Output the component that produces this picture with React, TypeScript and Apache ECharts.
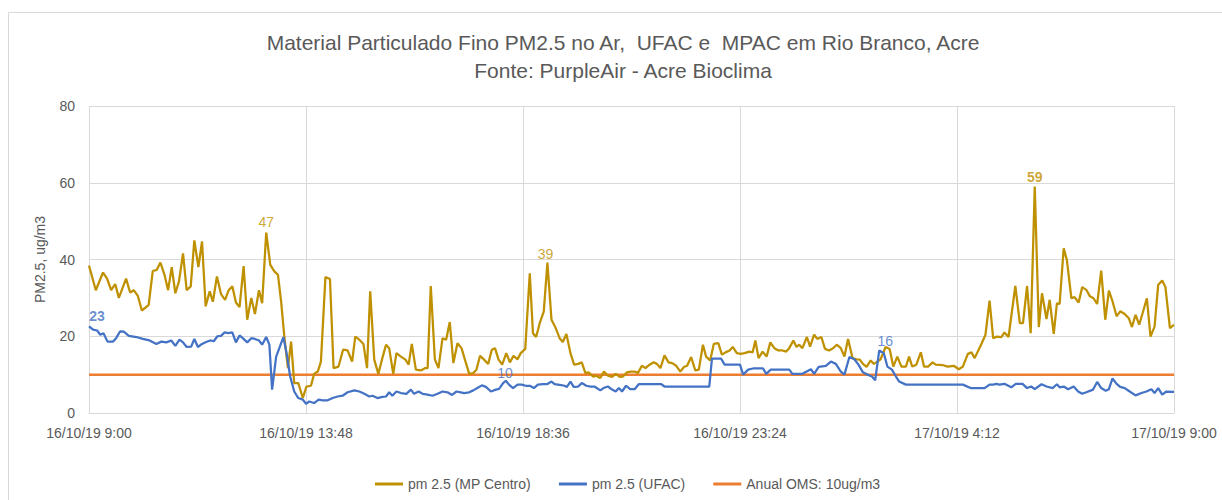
import React, { useEffect, useRef } from "react";
import * as echarts from "echarts";

// hours after 16/10/19 9:00
const xTickLabels = ["16/10/19 9:00", "16/10/19 13:48", "16/10/19 18:36", "16/10/19 23:24", "17/10/19 4:12", "17/10/19 9:00"];
const titleLines = ["Material Particulado Fino PM2.5 no Ar,  UFAC e  MPAC em Rio Branco, Acre", "Fonte: PurpleAir - Acre Bioclima"];

const goldTime = [0.00,0.15,0.31,0.40,0.49,0.58,0.66,0.82,0.91,0.99,1.08,1.17,1.32,1.41,1.50,1.58,1.67,1.75,1.83,1.91,1.99,2.08,2.16,2.25,2.33,2.42,2.50,2.58,2.67,2.74,2.83,2.92,3.01,3.09,3.17,3.25,3.33,3.42,3.50,3.59,3.67,3.76,3.83,3.92,4.01,4.10,4.18,4.25,4.32,4.40,4.47,4.54,4.63,
4.73,4.81,4.91,4.98,5.06,5.13,5.23,5.33,5.41,5.52,5.62,5.72,5.82,5.89,5.98,6.07,6.15,6.22,6.31,6.40,6.48,6.57,6.64,6.73,6.80,6.90,7.00,7.07,7.14,7.23,7.34,7.44,7.49,7.56,7.65,7.73,7.82,7.90,7.98,8.06,8.15,8.24,8.32,8.41,8.50,8.57,8.65,8.74,8.83,8.91,8.98,9.06,9.14,9.23,9.31,9.39,9.48,9.55,
9.65,9.75,9.82,9.89,9.97,10.06,10.14,10.23,10.31,10.41,10.48,10.56,10.65,10.73,10.82,10.90,10.98,11.05,11.15,11.22,11.31,11.39,11.48,11.57,11.65,11.74,11.81,11.90,11.98,12.07,12.14,12.23,12.31,12.40,12.49,12.56,12.64,12.73,12.82,12.90,12.99,13.08,13.16,13.23,13.32,13.41,13.49,13.58,13.65,13.74,13.82,13.92,14.00,14.08,14.17,14.24,14.33,
14.42,14.50,14.61,14.68,14.74,14.81,14.90,14.99,15.07,15.16,15.25,15.34,15.42,15.49,15.58,15.65,15.71,15.78,15.88,15.95,16.04,16.11,16.20,16.28,16.37,16.46,16.54,16.63,16.71,16.79,16.89,16.98,17.05,17.12,17.20,17.29,17.36,17.44,17.51,17.62,17.71,17.79,17.88,17.97,18.07,18.14,18.21,18.30,18.40,18.47,18.56,18.66,18.73,18.88,18.99,19.13,
19.24,19.33,19.44,19.52,19.59,19.74,19.83,19.92,20.00,20.08,20.18,20.25,20.34,20.49,20.59,20.66,20.75,20.83,20.92,21.01,21.08,21.18,21.25,21.34,21.41,21.47,21.56,21.63,21.73,21.80,21.89,21.97,22.06,22.14,22.22,22.30,22.39,22.48,22.56,22.64,22.73,22.81,22.91,23.00,23.07,23.15,23.23,23.31,23.40,23.48,23.57,23.65,23.74,23.81,23.91,24.00];

const goldPM = [38.4,32,36.6,35,32,33.6,30,35,31.4,32,30.5,26.7,28.2,37,37.3,39.2,36,32,38,31.2,34.3,41.6,32,33,45,38,44.7,27.8,31.7,29,35.6,31,29.5,32,33,28.8,27.6,38.3,24.3,30,25.8,32,28.6,47,38.6,36.9,36,29,20,11.7,18.6,7.8,7.8,
3.9,6.9,7.1,10.2,10.8,13.4,35.4,34.9,11.7,12.1,16.5,16.3,13.4,19.9,19.1,18,11.7,31.7,13.9,10.2,13.9,17.8,16.9,10.2,15.6,14.7,13.9,12.6,18,11.3,11.1,11.7,11.7,33.1,14,11.7,19.5,19.1,23.7,13,18.2,16.9,13.7,10.2,10.4,11.3,14.9,13.9,12.8,16.5,16.9,13.9,12.6,15.6,13.2,14.9,14,15.6,
16.7,36.4,20.8,19.8,23.4,26.5,39.2,24.3,22.5,19.5,18.5,20.6,15.6,12.6,12.8,13.2,10.4,10.6,9.5,9.7,9.1,10.8,9.7,9.4,10.2,9.4,9.5,10.6,10.8,10.8,10.4,12.3,11.7,12.6,13.2,12.8,11.7,15,13.2,13,12.3,10.8,12,12.3,14.6,11.1,11.3,17.8,14.7,13.7,18,18.2,15.2,15.8,16.3,17.2,15.6,
15.4,15.6,16,15.8,18.9,14.3,16,14.7,18.4,16.9,16.3,16.3,16,16.9,18.9,17.2,17.8,16.9,19.8,17.3,20.4,19.3,19.8,16.7,16.3,16.9,17.8,16.9,14.7,19.3,14.3,14,13.9,12.8,12,13.7,12.8,13.4,14,17.2,16.7,12.1,14.7,12.1,12.1,14.7,12.1,12.6,15.8,12.1,12.1,13.2,12.6,12.5,12.1,12.3,
11.4,12.1,15.4,15.8,14.3,18,20.4,29.3,19.5,19.9,19.8,21,19.8,33.1,23.4,23.4,33.1,20.8,59,22.4,31.2,24.5,29.5,20.6,28.6,28.4,42.9,39.9,29.9,30.2,28.8,32.8,32.1,30.4,29.9,28.4,37.1,24.3,31.9,29.1,25.2,26.5,25.8,24.7,22.4,25.6,23,26.2,29.9,19.9,22.5,33.4,34.5,32.8,22.1,23];

const blueTime = [0.00,0.09,0.18,0.25,0.32,0.41,0.53,0.60,0.69,0.77,0.88,1.05,1.19,1.34,1.49,1.60,1.71,1.82,1.91,2.00,2.08,2.16,2.26,2.33,2.41,2.50,2.59,2.68,2.76,2.84,2.92,3.00,3.08,3.17,3.25,3.33,3.42,3.50,3.59,3.67,3.76,3.83,3.92,3.99,4.05,4.14,4.21,4.30,4.37,4.45,4.54,4.63,
4.73,4.80,4.87,4.98,5.08,5.17,5.28,5.39,5.50,5.61,5.72,5.87,5.98,6.09,6.20,6.27,6.38,6.49,6.57,6.64,6.71,6.80,6.90,7.02,7.12,7.19,7.29,7.38,7.49,7.60,7.71,7.82,7.93,8.03,8.13,8.22,8.30,8.41,8.50,8.59,8.69,8.78,8.89,9.00,9.07,9.16,9.22,9.29,9.38,9.48,9.57,
9.66,9.75,9.84,9.93,10.04,10.13,10.23,10.30,10.41,10.52,10.57,10.65,10.72,10.82,10.90,11.00,11.09,11.18,11.31,11.38,11.48,11.57,11.65,11.72,11.79,11.88,11.97,12.07,12.16,12.25,12.66,12.73,13.21,13.72,13.78,13.98,14.06,14.40,
14.47,14.58,14.69,14.91,14.98,15.08,15.49,15.56,15.78,15.97,16.04,16.14,16.30,16.41,16.52,16.63,16.71,16.82,16.93,17.02,17.12,17.22,17.32,17.39,17.48,17.58,17.66,17.76,17.85,17.92,18.07,19.33,19.50,19.81,
19.92,20.00,20.07,20.14,20.25,20.40,20.50,20.65,20.75,20.84,20.92,21.07,21.18,21.32,21.41,21.47,21.56,21.66,21.78,21.88,21.97,22.06,22.21,22.30,22.39,22.49,22.56,22.64,22.73,22.81,22.91,23.02,23.15,23.28,23.39,23.50,23.57,23.65,23.74,23.83,24.00];

const bluePM = [22.6,21.7,21.5,20.4,20.8,18.6,18.6,19.5,21.3,21.2,20.1,19.8,19.3,18.9,18,18.6,18.4,18.9,17.5,19.1,18.4,17.2,17.3,19.3,17.2,18,18.5,18.9,18.7,20,20.1,21,20.8,21,18.4,20.2,19.3,18.4,19.5,19.3,18.9,17.8,19.8,17.8,6.1,14.7,16.9,19.8,15.6,9.5,5.6,3.9,
3.5,2.4,3,2.6,3.5,3.3,3.3,3.9,4.3,4.5,5.4,5.9,5.6,5,4.3,4.5,3.9,4.2,4.3,5.4,4.5,5.6,5.2,5,6.1,5,5.6,5,4.8,4.5,5,5.6,5.4,4.7,5.6,5.4,5.2,5.4,5.9,6.5,7.2,6.8,5.6,6.1,6.3,7.8,8.4,7.4,6.5,7.4,7.4,
7.1,7.1,6.5,7.4,7.5,7.5,8.2,7.5,7.3,7.1,6.8,8.2,6.8,6.9,7.8,7.1,6.9,6.9,5.9,6.5,6.9,6.1,5.6,6.5,5.6,7.1,6.2,6.2,7.5,7.5,7.5,6.9,6.9,6.9,14.2,14.2,12.6,12.6,
10,11.3,11.6,11.6,10.2,11.3,11.3,10.2,10.2,11.4,10.2,12,12.3,13.4,12.8,10.8,10,14.6,14,12.6,10.6,10,9.5,8.5,16.3,15.6,12.1,11.3,9.5,8.2,7.4,7.4,6.5,6.5,
7.4,7.4,7.6,7.4,7.6,6.7,7.6,7.6,6.5,6.9,6.2,7.5,6.9,6.5,7.5,6.7,6.9,6.2,6.9,5.6,5,5.4,6.1,8.1,6.5,5.8,6.2,9,7.6,6.8,6.5,5.6,4.6,5.2,5.6,6.2,5.2,6.5,4.8,5.6,5.5];

const omsTime = [0, 9.2, 24];
const omsPM = [10, 10, 10];

// points that carry a data label
const goldLabelTimes = [3.92, 10.14, 20.92];
const blueLabelTimes = [0.0, 17.48];
const omsLabelTimes = [9.2];

const seriesNames = ["pm 2.5 (MP Centro)", "pm 2.5 (UFAC)", "Anual OMS: 10ug/m3"];
const GOLD = "#BF9000";
const BLUE = "#4472C4";
const ORANGE = "#ED7D31";
const TEXT = "#595959";
const FONT = "'Liberation Sans', Arial, sans-serif";

const pairs = (times: number[], vals: number[]) => times.map((t, i) => [t, vals[i]]);

function labelSeries(id: string, times: number[], vals: number[], labelTimes: number[], color: string, offsets: number[][], weights: string[]) {
  const data = labelTimes.map((lt, k) => {
    const i = times.indexOf(lt);
    return {
      value: [times[i], vals[i]],
      label: { offset: offsets[k], fontWeight: weights[k] },
    };
  });
  return {
    id,
    name: id,
    type: "scatter",
    symbol: "circle",
    symbolSize: 1,
    itemStyle: { color: "rgba(0,0,0,0)" },
    silent: true,
    z: 10,
    label: {
      show: true,
      position: "top",
      distance: 3,
      color,
      fontSize: 14,
      fontFamily: FONT,
      formatter: (p: any) => String(Math.round(p.value[1])),
    },
    data,
  };
}

function lineSeries(name: string, color: string, width: number, data: any[], z: number) {
  return {
    name,
    type: "line",
    symbol: "none",
    showSymbol: false,
    color,
    lineStyle: { color, width },
    emphasis: { disabled: true },
    data,
    z,
  };
}

export default function App() {
  const ref = useRef<HTMLDivElement>(null);
  useEffect(() => {
    if (!ref.current) return;
    const chart = echarts.init(ref.current, undefined, { renderer: "svg" });
    chart.setOption({
      animation: false,
      backgroundColor: "#ffffff",
      textStyle: { fontFamily: FONT },
      graphic: [
        {
          type: "rect",
          z: -10,
          silent: true,
          shape: { x: 8.5, y: 12.5, width: 1400, height: 700 },
          style: { fill: "none", stroke: "#d9d9d9", lineWidth: 1 },
        },
        {
          type: "text",
          x: 623,
          y: 42,
          silent: true,
          style: { text: titleLines[0], fill: TEXT, font: `21px ${FONT}`, textAlign: "center", textVerticalAlign: "middle" },
        },
        {
          type: "text",
          x: 623,
          y: 70,
          silent: true,
          style: { text: titleLines[1], fill: TEXT, font: `21px ${FONT}`, textAlign: "center", textVerticalAlign: "middle" },
        },
      ],
      legend: {
        bottom: 4,
        left: 370,
        data: seriesNames,
        icon: "rect",
        itemWidth: 28,
        itemHeight: 3,
        itemGap: 28,
        textStyle: { color: TEXT, fontSize: 14, fontFamily: FONT },
      },
      grid: { left: 89, right: 48, top: 106, bottom: 87, containLabel: false },
      xAxis: {
        type: "value",
        min: 0,
        max: 24,
        interval: 4.8,
        axisLine: { show: true, lineStyle: { color: "#d9d9d9", width: 1 } },
        axisTick: { show: false },
        splitLine: { show: true, lineStyle: { color: "#d9d9d9", width: 1 } },
        axisLabel: {
          color: TEXT,
          fontSize: 14,
          margin: 13,
          showMinLabel: true,
          showMaxLabel: true,
          formatter: (v: number) => xTickLabels[Math.round(v / 4.8)] ?? "",
        },
      },
      yAxis: {
        type: "value",
        min: 0,
        max: 80,
        interval: 20,
        name: "PM2.5, ug/m3",
        nameLocation: "middle",
        nameGap: 42,
        nameTextStyle: { color: TEXT, fontSize: 14 },
        axisLine: { show: false },
        axisTick: { show: false },
        splitLine: { show: true, lineStyle: { color: "#d9d9d9", width: 1 } },
        axisLabel: { color: TEXT, fontSize: 14, margin: 14 },
      },
      series: [
        lineSeries(seriesNames[0], GOLD, 2.25, pairs(goldTime, goldPM), 3),
        lineSeries(seriesNames[1], BLUE, 2.25, pairs(blueTime, bluePM), 4),
        lineSeries(seriesNames[2], ORANGE, 2.5, pairs(omsTime, omsPM), 2),
        labelSeries("gold-labels", goldTime, goldPM, goldLabelTimes, GOLD, [[0, 0], [-2, 2], [0, 1]], ["normal", "normal", "bold"]),
        labelSeries("blue-labels", blueTime, bluePM, blueLabelTimes, BLUE, [[8, 0], [6, 1]], ["bold", "normal"]),
        labelSeries("oms-labels", omsTime, omsPM, omsLabelTimes, BLUE, [[0, 9]], ["normal"]),
      ],
    });
    return () => chart.dispose();
  }, []);
  return <div ref={ref} style={{ position: "fixed", left: 0, top: 0, width: 1222, height: 500 }} />;
}
